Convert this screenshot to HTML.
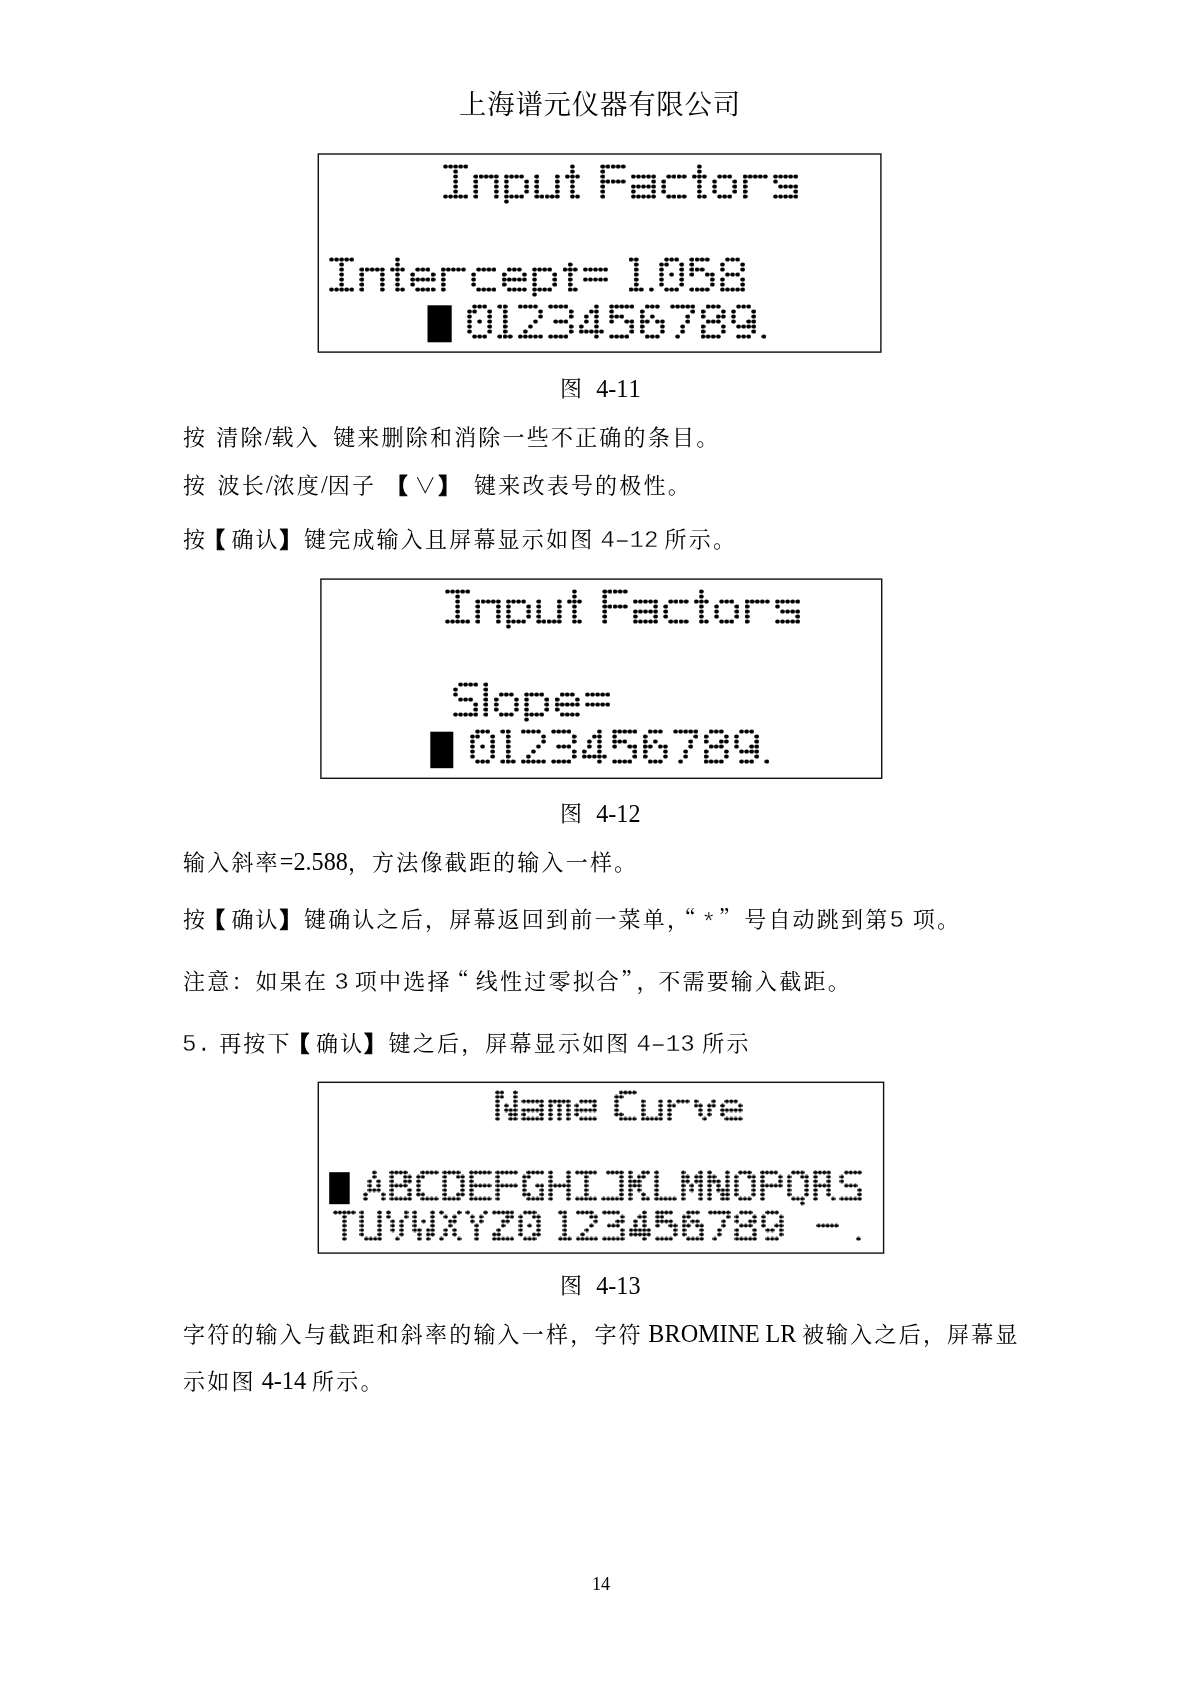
<!DOCTYPE html>
<html lang="zh-CN"><head><meta charset="utf-8"><title>上海谱元仪器有限公司 - 14</title>
<style>
html,body{margin:0;padding:0;background:#fff}
body{width:1200px;height:1698px;position:relative;overflow:hidden;font-family:"Liberation Serif","Noto Serif CJK SC",serif;color:#000}
figure,p{margin:0;padding:0}
svg.lcd{position:absolute;overflow:hidden}
svg.lcd text{font-family:"DejaVu Sans Mono","Liberation Mono",monospace;fill:#000}

.ln{position:absolute;margin:0;will-change:transform;white-space:nowrap;line-height:1;font-size:22.0px;letter-spacing:2.20px;font-weight:400;font-kerning:none;text-spacing-trim:space-all}
.sp{display:inline-block;white-space:pre;overflow:hidden;height:1em;vertical-align:top;letter-spacing:0;font-size:10px}
.l{font-size:24.2px;letter-spacing:0;line-height:0}
.m{font-family:"Liberation Mono",monospace;font-size:24.2px;letter-spacing:0;line-height:0;-webkit-text-stroke:.35px #fff}
.up{position:relative;top:-1px}
.hy{display:inline-block;transform:scaleX(1.7)}
.q{font-family:"Noto Serif CJK SC",serif;line-height:0}
.bk{font-family:"Noto Sans CJK SC",sans-serif;font-weight:700;line-height:0;-webkit-text-stroke:1.1px #000}

</style></head><body>
<h1 class="ln" style="left:459.1px;top:91.55px;font-size:27.4px;letter-spacing:0.80px;">上海谱元仪器有限公司</h1>
<figure><svg class="lcd" style="left:310px;top:146px" width="578" height="214" viewBox="310 146 578 214"><defs><filter id="fA" filterUnits="userSpaceOnUse" x="-12" y="-8" width="620" height="54" color-interpolation-filters="sRGB"><feGaussianBlur in="SourceGraphic" stdDeviation="0 1.0" result="thick"/><feFlood x="0" y="-8" width="1" height="54" flood-color="#000" result="c0"/><feFlood x="5" y="-8" width="1" height="54" flood-color="#000" result="c1"/><feFlood x="10" y="-8" width="1" height="54" flood-color="#000" result="c2"/><feFlood x="15" y="-8" width="1" height="54" flood-color="#000" result="c3"/><feFlood x="20" y="-8" width="1" height="54" flood-color="#000" result="c4"/><feFlood x="25" y="-8" width="1" height="54" flood-color="#000" result="c5"/><feFlood x="30" y="-8" width="1" height="54" flood-color="#000" result="c6"/><feFlood x="36" y="-8" width="1" height="54" flood-color="#000" result="c7"/><feFlood x="41" y="-8" width="1" height="54" flood-color="#000" result="c8"/><feFlood x="46" y="-8" width="1" height="54" flood-color="#000" result="c9"/><feFlood x="51" y="-8" width="1" height="54" flood-color="#000" result="c10"/><feFlood x="56" y="-8" width="1" height="54" flood-color="#000" result="c11"/><feFlood x="61" y="-8" width="1" height="54" flood-color="#000" result="c12"/><feMerge x="0" y="-8" width="66" height="54" result="ct"><feMergeNode in="c0"/><feMergeNode in="c1"/><feMergeNode in="c2"/><feMergeNode in="c3"/><feMergeNode in="c4"/><feMergeNode in="c5"/><feMergeNode in="c6"/><feMergeNode in="c7"/><feMergeNode in="c8"/><feMergeNode in="c9"/><feMergeNode in="c10"/><feMergeNode in="c11"/><feMergeNode in="c12"/></feMerge><feTile in="ct" x="-12" y="-8" width="620" height="54" result="cols"/><feFlood x="-12" y="0" width="620" height="1" flood-color="#000" result="r1"/><feFlood x="-12" y="5" width="620" height="1" flood-color="#000" result="r2"/><feFlood x="-12" y="10" width="620" height="1" flood-color="#000" result="r3"/><feFlood x="-12" y="15" width="620" height="1" flood-color="#000" result="r4"/><feFlood x="-12" y="20" width="620" height="1" flood-color="#000" result="r5"/><feFlood x="-12" y="25" width="620" height="1" flood-color="#000" result="r6"/><feFlood x="-12" y="30" width="620" height="1" flood-color="#000" result="r7"/><feFlood x="-12" y="35" width="620" height="1" flood-color="#000" result="r8"/><feMerge x="-12" y="-8" width="620" height="54" result="rows"><feMergeNode in="r1"/><feMergeNode in="r2"/><feMergeNode in="r3"/><feMergeNode in="r4"/><feMergeNode in="r5"/><feMergeNode in="r6"/><feMergeNode in="r7"/><feMergeNode in="r8"/></feMerge><feComposite in="cols" in2="rows" operator="in" result="grid"/><feComposite in="thick" in2="grid" operator="in" result="samp"/><feComponentTransfer in="samp" result="bin"><feFuncA type="discrete" tableValues="0 1 1"/></feComponentTransfer><feMorphology in="bin" operator="dilate" radius="2" result="blocks"/></filter><pattern id="pA" patternUnits="userSpaceOnUse" x="-2.0385" y="-2.0000" width="5.0769" height="5.0000"><ellipse cx="2.5385" cy="2.5000" rx="2.3" ry="2.1" fill="#fff"/></pattern><mask id="mA" maskUnits="userSpaceOnUse" x="-12" y="-8" width="620" height="54"><rect x="-12" y="-8" width="620" height="54" fill="url(#pA)"/></mask><filter id="fB" filterUnits="userSpaceOnUse" x="-12" y="-8" width="620" height="49" color-interpolation-filters="sRGB"><feGaussianBlur in="SourceGraphic" stdDeviation="0 1.0" result="thick"/><feFlood x="0" y="-8" width="1" height="49" flood-color="#000" result="c0"/><feFlood x="4" y="-8" width="1" height="49" flood-color="#000" result="c1"/><feFlood x="9" y="-8" width="1" height="49" flood-color="#000" result="c2"/><feFlood x="13" y="-8" width="1" height="49" flood-color="#000" result="c3"/><feFlood x="18" y="-8" width="1" height="49" flood-color="#000" result="c4"/><feFlood x="22" y="-8" width="1" height="49" flood-color="#000" result="c5"/><feFlood x="26" y="-8" width="1" height="49" flood-color="#000" result="c6"/><feFlood x="31" y="-8" width="1" height="49" flood-color="#000" result="c7"/><feFlood x="35" y="-8" width="1" height="49" flood-color="#000" result="c8"/><feFlood x="40" y="-8" width="1" height="49" flood-color="#000" result="c9"/><feFlood x="44" y="-8" width="1" height="49" flood-color="#000" result="c10"/><feFlood x="49" y="-8" width="1" height="49" flood-color="#000" result="c11"/><feFlood x="53" y="-8" width="1" height="49" flood-color="#000" result="c12"/><feFlood x="57" y="-8" width="1" height="49" flood-color="#000" result="c13"/><feFlood x="62" y="-8" width="1" height="49" flood-color="#000" result="c14"/><feFlood x="66" y="-8" width="1" height="49" flood-color="#000" result="c15"/><feFlood x="71" y="-8" width="1" height="49" flood-color="#000" result="c16"/><feMerge x="0" y="-8" width="75" height="49" result="ct"><feMergeNode in="c0"/><feMergeNode in="c1"/><feMergeNode in="c2"/><feMergeNode in="c3"/><feMergeNode in="c4"/><feMergeNode in="c5"/><feMergeNode in="c6"/><feMergeNode in="c7"/><feMergeNode in="c8"/><feMergeNode in="c9"/><feMergeNode in="c10"/><feMergeNode in="c11"/><feMergeNode in="c12"/><feMergeNode in="c13"/><feMergeNode in="c14"/><feMergeNode in="c15"/><feMergeNode in="c16"/></feMerge><feTile in="ct" x="-12" y="-8" width="620" height="49" result="cols"/><feFlood x="-12" y="0" width="620" height="1" flood-color="#000" result="r1"/><feFlood x="-12" y="4" width="620" height="1" flood-color="#000" result="r2"/><feFlood x="-12" y="9" width="620" height="1" flood-color="#000" result="r3"/><feFlood x="-12" y="13" width="620" height="1" flood-color="#000" result="r4"/><feFlood x="-12" y="18" width="620" height="1" flood-color="#000" result="r5"/><feFlood x="-12" y="22" width="620" height="1" flood-color="#000" result="r6"/><feFlood x="-12" y="26" width="620" height="1" flood-color="#000" result="r7"/><feFlood x="-12" y="31" width="620" height="1" flood-color="#000" result="r8"/><feMerge x="-12" y="-8" width="620" height="49" result="rows"><feMergeNode in="r1"/><feMergeNode in="r2"/><feMergeNode in="r3"/><feMergeNode in="r4"/><feMergeNode in="r5"/><feMergeNode in="r6"/><feMergeNode in="r7"/><feMergeNode in="r8"/></feMerge><feComposite in="cols" in2="rows" operator="in" result="grid"/><feComposite in="thick" in2="grid" operator="in" result="samp"/><feComponentTransfer in="samp" result="bin"><feFuncA type="discrete" tableValues="0 1 1"/></feComponentTransfer><feMorphology in="bin" operator="dilate" radius="2" result="blocks"/></filter><pattern id="pB" patternUnits="userSpaceOnUse" x="-1.7059" y="-1.7000" width="4.4118" height="4.4000"><ellipse cx="2.2059" cy="2.2000" rx="2.05" ry="1.85" fill="#fff"/></pattern><mask id="mB" maskUnits="userSpaceOnUse" x="-12" y="-8" width="620" height="49"><rect x="-12" y="-8" width="620" height="49" fill="url(#pB)"/></mask></defs><rect x="318.3" y="154.0" width="562.6" height="198.1" fill="none" stroke="#111" stroke-width="1.4"/><g transform="translate(445,166)" aria-label="Input Factors"><g mask="url(#mA)"><g filter="url(#fA)"><text xml:space="preserve" y="32.71" font-size="46" lengthAdjust="spacingAndGlyphs"><tspan x="-8.19" textLength="37.76" lengthAdjust="spacingAndGlyphs">I</tspan><tspan x="22.64" textLength="36.56" lengthAdjust="spacingAndGlyphs">n</tspan><tspan x="53.63" textLength="34.10" lengthAdjust="spacingAndGlyphs">p</tspan><tspan x="83.56" textLength="36.56" lengthAdjust="spacingAndGlyphs">u</tspan><tspan x="117.63" textLength="20.77" lengthAdjust="spacingAndGlyphs">t</tspan> <tspan x="148.62" textLength="35.61" lengthAdjust="spacingAndGlyphs">F</tspan><tspan x="182.16" textLength="33.80" lengthAdjust="spacingAndGlyphs">a</tspan><tspan x="210.55" textLength="36.14" lengthAdjust="spacingAndGlyphs">c</tspan><tspan x="244.55" textLength="20.77" lengthAdjust="spacingAndGlyphs">t</tspan><tspan x="263.41" textLength="32.64" lengthAdjust="spacingAndGlyphs">o</tspan><tspan x="285.91" textLength="39.47" lengthAdjust="spacingAndGlyphs">r</tspan><tspan x="321.34" textLength="38.31" lengthAdjust="spacingAndGlyphs">s</tspan></text></g></g></g><g transform="translate(331,259)" aria-label="Intercept= 1.058"><g mask="url(#mA)"><g filter="url(#fA)"><text xml:space="preserve" y="32.71" font-size="46" lengthAdjust="spacingAndGlyphs"><tspan x="-8.19" textLength="37.76" lengthAdjust="spacingAndGlyphs">I</tspan><tspan x="22.64" textLength="36.56" lengthAdjust="spacingAndGlyphs">n</tspan><tspan x="56.70" textLength="20.77" lengthAdjust="spacingAndGlyphs">t</tspan><tspan x="76.04" textLength="31.65" lengthAdjust="spacingAndGlyphs">e</tspan><tspan x="98.07" textLength="39.47" lengthAdjust="spacingAndGlyphs">r</tspan><tspan x="134.40" textLength="36.14" lengthAdjust="spacingAndGlyphs">c</tspan><tspan x="167.42" textLength="31.65" lengthAdjust="spacingAndGlyphs">e</tspan><tspan x="195.78" textLength="34.10" lengthAdjust="spacingAndGlyphs">p</tspan><tspan x="229.32" textLength="20.77" lengthAdjust="spacingAndGlyphs">t</tspan><tspan x="248.85" textLength="31.35" lengthAdjust="spacingAndGlyphs" y="31.11" font-family="Liberation Mono">=</tspan> <tspan x="293.08" textLength="22.15" lengthAdjust="spacingAndGlyphs" y="32.71">1</tspan><tspan x="307.22" textLength="26.31" lengthAdjust="spacingAndGlyphs" y="33.61">.</tspan><tspan x="324.47" textLength="32.37" lengthAdjust="spacingAndGlyphs" y="32.71">0</tspan><tspan x="354.50" textLength="33.80" lengthAdjust="spacingAndGlyphs">5</tspan><tspan x="385.46" textLength="32.23" lengthAdjust="spacingAndGlyphs">8</tspan></text></g></g></g><rect x="427.5" y="305.3" width="24.2" height="37" fill="#000"/><g transform="translate(469,306)" aria-label="0123456789."><g mask="url(#mA)"><g filter="url(#fA)"><text xml:space="preserve" y="32.71" font-size="46" lengthAdjust="spacingAndGlyphs"><tspan x="-5.53" textLength="32.37" lengthAdjust="spacingAndGlyphs">0</tspan><tspan x="24.00" textLength="22.15" lengthAdjust="spacingAndGlyphs">1</tspan><tspan x="44.48" textLength="34.51" lengthAdjust="spacingAndGlyphs">2</tspan><tspan x="75.50" textLength="33.23" lengthAdjust="spacingAndGlyphs">3</tspan><tspan x="107.15" textLength="30.30" lengthAdjust="spacingAndGlyphs">4</tspan><tspan x="136.20" textLength="33.80" lengthAdjust="spacingAndGlyphs">5</tspan><tspan x="167.09" textLength="32.37" lengthAdjust="spacingAndGlyphs">6</tspan><tspan x="197.28" textLength="33.30" lengthAdjust="spacingAndGlyphs">7</tspan><tspan x="228.08" textLength="32.23" lengthAdjust="spacingAndGlyphs">8</tspan><tspan x="258.63" textLength="32.37" lengthAdjust="spacingAndGlyphs">9</tspan><tspan x="281.84" textLength="26.31" lengthAdjust="spacingAndGlyphs" y="33.61">.</tspan></text></g></g></g></svg><figcaption class="ln" style="left:560.3px;top:379.27px;"><span class="up">图</span><span class="sp" style="width:12.0px"> </span><span class="l">4-11</span></figcaption></figure>
<p class="ln" style="left:183.1px;top:426.88px;">按<span class="sp" style="width:9.1px"> </span>清除<span class="l">/</span>载入<span class="sp" style="width:13.3px"> </span>键来删除和消除一些不正确的条目。</p>
<p class="ln" style="left:183.1px;top:474.57px;">按<span class="sp" style="width:10.3px"> </span>波长<span class="l">/</span>浓度<span class="l">/</span>因子<span class="sp" style="width:13.8px"> </span><span class="bk" style="margin-left:-4.5px;margin-right:4.5px">【</span>∨<span class="bk">】</span><span class="sp" style="width:11.5px"> </span>键来改表号的极性。</p>
<p class="ln" style="left:183.1px;top:529.28px;">按<span class="bk" style="margin-left:-4.5px;margin-right:4.5px">【</span>确认<span class="bk">】</span>键完成输入且屏幕显示如图<span class="l"> </span><span class="m">4<span class="hy">-</span>12</span><span class="l"> </span>所示。</p>
<figure><svg class="lcd" style="left:312px;top:571px" width="577" height="215" viewBox="312 571 577 215"><rect x="320.9" y="579.1" width="560.8" height="199.2" fill="none" stroke="#111" stroke-width="1.4"/><g transform="translate(447,591)" aria-label="Input Factors"><g mask="url(#mA)"><g filter="url(#fA)"><text xml:space="preserve" y="32.71" font-size="46" lengthAdjust="spacingAndGlyphs"><tspan x="-8.19" textLength="37.76" lengthAdjust="spacingAndGlyphs">I</tspan><tspan x="22.64" textLength="36.56" lengthAdjust="spacingAndGlyphs">n</tspan><tspan x="53.63" textLength="34.10" lengthAdjust="spacingAndGlyphs">p</tspan><tspan x="83.56" textLength="36.56" lengthAdjust="spacingAndGlyphs">u</tspan><tspan x="117.63" textLength="20.77" lengthAdjust="spacingAndGlyphs">t</tspan> <tspan x="148.62" textLength="35.61" lengthAdjust="spacingAndGlyphs">F</tspan><tspan x="182.16" textLength="33.80" lengthAdjust="spacingAndGlyphs">a</tspan><tspan x="210.55" textLength="36.14" lengthAdjust="spacingAndGlyphs">c</tspan><tspan x="244.55" textLength="20.77" lengthAdjust="spacingAndGlyphs">t</tspan><tspan x="263.41" textLength="32.64" lengthAdjust="spacingAndGlyphs">o</tspan><tspan x="285.91" textLength="39.47" lengthAdjust="spacingAndGlyphs">r</tspan><tspan x="321.34" textLength="38.31" lengthAdjust="spacingAndGlyphs">s</tspan></text></g></g></g><g transform="translate(455,684)" aria-label="Slope="><g mask="url(#mA)"><g filter="url(#fA)"><text xml:space="preserve" y="32.71" font-size="46" lengthAdjust="spacingAndGlyphs"><tspan x="-5.72" textLength="32.64" lengthAdjust="spacingAndGlyphs">S</tspan><tspan x="24.82" textLength="12.26" lengthAdjust="spacingAndGlyphs" font-family="Liberation Sans">l</tspan><tspan x="34.95" textLength="32.64" lengthAdjust="spacingAndGlyphs">o</tspan><tspan x="63.78" textLength="34.10" lengthAdjust="spacingAndGlyphs">p</tspan><tspan x="96.34" textLength="31.65" lengthAdjust="spacingAndGlyphs">e</tspan><tspan x="127.00" textLength="31.35" lengthAdjust="spacingAndGlyphs" y="31.11" font-family="Liberation Mono">=</tspan></text></g></g></g><rect x="430.3" y="731.7" width="23" height="36.5" fill="#000"/><g transform="translate(472,731)" aria-label="0123456789."><g mask="url(#mA)"><g filter="url(#fA)"><text xml:space="preserve" y="32.71" font-size="46" lengthAdjust="spacingAndGlyphs"><tspan x="-5.53" textLength="32.37" lengthAdjust="spacingAndGlyphs">0</tspan><tspan x="24.00" textLength="22.15" lengthAdjust="spacingAndGlyphs">1</tspan><tspan x="44.48" textLength="34.51" lengthAdjust="spacingAndGlyphs">2</tspan><tspan x="75.50" textLength="33.23" lengthAdjust="spacingAndGlyphs">3</tspan><tspan x="107.15" textLength="30.30" lengthAdjust="spacingAndGlyphs">4</tspan><tspan x="136.20" textLength="33.80" lengthAdjust="spacingAndGlyphs">5</tspan><tspan x="167.09" textLength="32.37" lengthAdjust="spacingAndGlyphs">6</tspan><tspan x="197.28" textLength="33.30" lengthAdjust="spacingAndGlyphs">7</tspan><tspan x="228.08" textLength="32.23" lengthAdjust="spacingAndGlyphs">8</tspan><tspan x="258.63" textLength="32.37" lengthAdjust="spacingAndGlyphs">9</tspan><tspan x="281.84" textLength="26.31" lengthAdjust="spacingAndGlyphs" y="33.61">.</tspan></text></g></g></g></svg><figcaption class="ln" style="left:559.6px;top:803.68px;"><span class="up">图</span><span class="sp" style="width:12.0px"> </span><span class="l">4-12</span></figcaption></figure>
<p class="ln" style="left:182.6px;top:851.58px;">输入斜率<span class="l">=2.588</span>，方法像截距的输入一样。</p>
<p class="ln" style="left:183.1px;top:908.78px;">按<span class="bk" style="margin-left:-4.5px;margin-right:4.5px">【</span>确认<span class="bk">】</span>键确认之后，屏幕返回到前一菜单，<span class="q" style="margin-left:-17.6px;margin-right:0px">“</span><span class="sp" style="width:3.7px"> </span><span class="m" style="position:relative;top:2.5px">*</span><span class="sp" style="width:2.7px"></span><span class="q">”</span><span class="sp" style="width:1.3px"></span>号自动跳到第<span class="m">5</span><span class="sp" style="width:8.9px"> </span>项。</p>
<p class="ln" style="left:182.6px;top:970.88px;">注意：如果在<span class="l"> </span><span class="m">3</span><span class="l"> </span>项中选择<span class="q" style="margin-left:-5px;margin-right:5px">“</span>线性过零拟合<span class="q">”</span><span style="margin-left:-8.8px;margin-right:-2.4px">，</span>不需要输入截距。</p>
<p class="ln" style="left:181.8px;top:1032.58px;"><span class="m">5.</span><span class="sp" style="width:8.1px"> </span>再按下<span class="bk" style="margin-left:-4.5px;margin-right:4.5px">【</span>确认<span class="bk">】</span>键之后，屏幕显示如图<span class="l"> </span><span class="m">4<span class="hy">-</span>13</span><span class="sp" style="width:1.5px"></span><span class="l"> </span>所示</p>
<figure><svg class="lcd" style="left:310px;top:1074px" width="581" height="187" viewBox="310 1074 581 187"><rect x="318.3" y="1082.3" width="565.3" height="170.8" fill="none" stroke="#111" stroke-width="1.4"/><g transform="translate(497,1092)" aria-label="Name Curve"><g mask="url(#mB)"><g filter="url(#fB)"><text xml:space="preserve" y="28.88" font-size="40.5" lengthAdjust="spacingAndGlyphs"><tspan x="-4.92" textLength="28.48" lengthAdjust="spacingAndGlyphs">N</tspan><tspan x="21.60" textLength="29.37" lengthAdjust="spacingAndGlyphs">a</tspan><tspan x="48.89" textLength="26.51" lengthAdjust="spacingAndGlyphs">m</tspan><tspan x="74.96" textLength="27.50" lengthAdjust="spacingAndGlyphs">e</tspan> <tspan x="114.13" textLength="29.12" lengthAdjust="spacingAndGlyphs">C</tspan><tspan x="138.86" textLength="31.77" lengthAdjust="spacingAndGlyphs">u</tspan><tspan x="160.28" textLength="34.30" lengthAdjust="spacingAndGlyphs">r</tspan><tspan x="194.69" textLength="26.33" lengthAdjust="spacingAndGlyphs">v</tspan><tspan x="220.55" textLength="27.50" lengthAdjust="spacingAndGlyphs">e</tspan></text></g></g></g><rect x="329.2" y="1172.2" width="20.5" height="32" fill="#000"/><g transform="translate(365,1172)" aria-label="ABCDEFGHIJKLMNOPQRS"><g mask="url(#mB)"><g filter="url(#fB)"><text xml:space="preserve" y="28.88" font-size="40.5" lengthAdjust="spacingAndGlyphs"><tspan x="-2.41" textLength="23.47" lengthAdjust="spacingAndGlyphs">A</tspan><tspan x="20.99" textLength="28.01" lengthAdjust="spacingAndGlyphs">B</tspan><tspan x="47.95" textLength="29.12" lengthAdjust="spacingAndGlyphs">C</tspan><tspan x="74.59" textLength="28.07" lengthAdjust="spacingAndGlyphs">D</tspan><tspan x="99.37" textLength="30.05" lengthAdjust="spacingAndGlyphs">E</tspan><tspan x="124.80" textLength="30.94" lengthAdjust="spacingAndGlyphs">F</tspan><tspan x="154.87" textLength="27.14" lengthAdjust="spacingAndGlyphs">G</tspan><tspan x="180.44" textLength="28.36" lengthAdjust="spacingAndGlyphs">H</tspan><tspan x="204.71" textLength="32.81" lengthAdjust="spacingAndGlyphs">I</tspan><tspan x="233.69" textLength="32.11" lengthAdjust="spacingAndGlyphs">J</tspan><tspan x="260.22" textLength="25.00" lengthAdjust="spacingAndGlyphs">K</tspan><tspan x="284.34" textLength="29.44" lengthAdjust="spacingAndGlyphs">L</tspan><tspan x="314.15" textLength="25.68" lengthAdjust="spacingAndGlyphs">M</tspan><tspan x="339.20" textLength="28.48" lengthAdjust="spacingAndGlyphs">N</tspan><tspan x="366.30" textLength="27.23" lengthAdjust="spacingAndGlyphs">O</tspan><tspan x="390.75" textLength="28.81" lengthAdjust="spacingAndGlyphs">P</tspan><tspan x="419.24" textLength="27.23" lengthAdjust="spacingAndGlyphs">Q</tspan><tspan x="445.40" textLength="24.95" lengthAdjust="spacingAndGlyphs">R</tspan><tspan x="471.57" textLength="28.36" lengthAdjust="spacingAndGlyphs">S</tspan></text></g></g></g><g transform="translate(335,1212)" aria-label="TUVWXYZ0 123456789 "><g mask="url(#mB)"><g filter="url(#fB)"><text xml:space="preserve" y="28.88" font-size="40.5" lengthAdjust="spacingAndGlyphs"><tspan x="-2.62" textLength="23.88" lengthAdjust="spacingAndGlyphs">T</tspan><tspan x="21.31" textLength="29.00" lengthAdjust="spacingAndGlyphs">U</tspan><tspan x="50.11" textLength="24.31" lengthAdjust="spacingAndGlyphs">V</tspan><tspan x="76.18" textLength="25.11" lengthAdjust="spacingAndGlyphs">W</tspan><tspan x="103.84" textLength="22.74" lengthAdjust="spacingAndGlyphs">X</tspan><tspan x="129.94" textLength="23.47" lengthAdjust="spacingAndGlyphs">Y</tspan><tspan x="153.72" textLength="26.85" lengthAdjust="spacingAndGlyphs">Z</tspan><tspan x="180.55" textLength="28.13" lengthAdjust="spacingAndGlyphs">0</tspan> <tspan x="219.45" textLength="19.24" lengthAdjust="spacingAndGlyphs">1</tspan><tspan x="237.24" textLength="29.99" lengthAdjust="spacingAndGlyphs">2</tspan><tspan x="264.20" textLength="28.87" lengthAdjust="spacingAndGlyphs">3</tspan><tspan x="291.70" textLength="26.33" lengthAdjust="spacingAndGlyphs">4</tspan><tspan x="316.95" textLength="29.37" lengthAdjust="spacingAndGlyphs">5</tspan><tspan x="343.79" textLength="28.13" lengthAdjust="spacingAndGlyphs">6</tspan><tspan x="370.03" textLength="28.93" lengthAdjust="spacingAndGlyphs">7</tspan><tspan x="396.79" textLength="28.01" lengthAdjust="spacingAndGlyphs">8</tspan><tspan x="423.34" textLength="28.13" lengthAdjust="spacingAndGlyphs">9</tspan> </text></g></g></g><g transform="translate(805,1212)" aria-label=" - ."><g mask="url(#mB)"><g filter="url(#fB)"><text xml:space="preserve" y="28.88" font-size="40.5" lengthAdjust="spacingAndGlyphs"> <tspan x="-3.54" textLength="52.20" lengthAdjust="spacingAndGlyphs" y="24.48">-</tspan> <tspan x="41.89" textLength="23.16" lengthAdjust="spacingAndGlyphs" y="29.78">.</tspan></text></g></g></g></svg><figcaption class="ln" style="left:559.6px;top:1275.67px;"><span class="up">图</span><span class="sp" style="width:12.0px"> </span><span class="l">4-13</span></figcaption></figure>
<p class="ln" style="left:182.6px;top:1323.58px;word-spacing:-0.5px;">字符的输入与截距和斜率的输入一样，字符<span class="l"> BROMINE LR </span>被输入之后，屏幕显</p>
<p class="ln" style="left:182.6px;top:1371.17px;">示如图<span class="l"> 4-14 </span>所示。</p>
<footer class="ln" style="left:591.7px;top:1574.74px;font-size:18.1px;letter-spacing:0">14</footer>
</body></html>
